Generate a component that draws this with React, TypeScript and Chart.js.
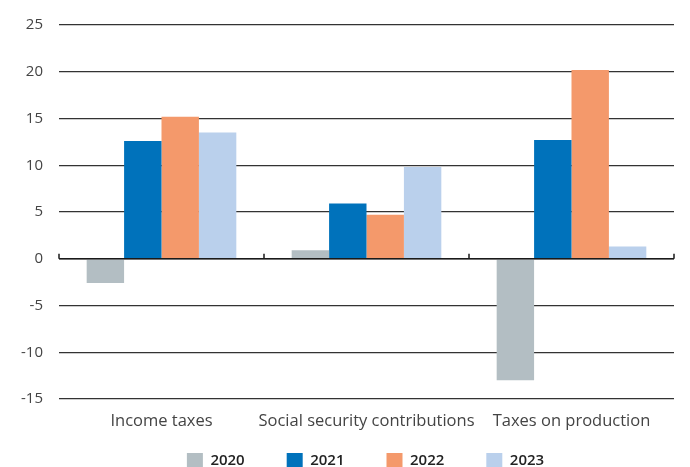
import React, { useEffect, useRef } from "react";
import { Chart, registerables } from "chart.js";

Chart.register(...registerables);

const categories = ["Income taxes", "Social security contributions", "Taxes on production"];
const years = ["2020", "2021", "2022", "2023"];
const values2020 = [-2.6, 0.9, -13.0];
const values2021 = [12.6, 5.9, 12.7];
const values2022 = [15.2, 4.7, 20.2];
const values2023 = [13.5, 9.8, 1.3];
const seriesColors = ["#b3bec3", "#0072bb", "#f4996b", "#bad0ec"];
const yMin = -15;
const yMax = 25;
const yStep = 5;

const FONT = "'Open Sans', 'DejaVu Sans', sans-serif";
const LEGEND_PAD = 42;

const layoutPlugin = {
  id: "layoutTweaks",
  afterLayout(chart: any) {
    const lg = chart.legend;
    if (lg) {
      const shift = (chart.chartArea.left + chart.chartArea.right) / 2 - chart.width / 2 + 7;
      lg.left += shift;
      lg.right += shift;
      const h = lg.bottom - lg.top;
      lg.top = chart.chartArea.bottom + 54 - LEGEND_PAD;
      lg.bottom = lg.top + h;
    }
  },
  afterDatasetsDraw(chart: any) {
    const { ctx, chartArea, scales } = chart;
    const y0 = scales.y.getPixelForValue(0);
    ctx.save();
    ctx.strokeStyle = "#1a1a1a";
    ctx.lineWidth = 1.5;
    ctx.beginPath();
    ctx.moveTo(chartArea.left, y0);
    ctx.lineTo(chartArea.right, y0);
    for (let i = 0; i <= categories.length; i++) {
      const x = scales.x.getPixelForValue(i - 0.5);
      ctx.moveTo(x, y0);
      ctx.lineTo(x, y0 - 5);
    }
    ctx.stroke();
    ctx.restore();
  },
};

export default function App() {
  const ref = useRef<HTMLCanvasElement | null>(null);

  useEffect(() => {
    document.body.style.margin = "0";
    const seriesValues = [values2020, values2021, values2022, values2023];
    const chart = new Chart(ref.current as HTMLCanvasElement, {
      type: "bar",
      data: {
        labels: categories,
        datasets: years.map((yr, i) => ({
          label: yr,
          data: seriesValues[i],
          backgroundColor: seriesColors[i],
          borderWidth: 0,
          categoryPercentage: 0.73,
          barPercentage: 1,
        })),
      },
      options: {
        animation: false,
        responsive: true,
        maintainAspectRatio: false,
        layout: { padding: { top: 21, right: 16, left: 0, bottom: -35 } },
        plugins: {
          tooltip: { enabled: false },
          legend: {
            position: "bottom",
            align: "center",
            labels: {
              boxWidth: 16,
              boxHeight: 16,
              padding: LEGEND_PAD,
              color: "#222",
              font: { family: FONT, size: 15, weight: "600" },
            },
          },
        },
        scales: {
          x: {
            grid: { display: false, drawTicks: false },
            border: { display: false },
            ticks: {
              color: "#444",
              padding: 12,
              autoSkip: false,
              font: { family: FONT, size: 16.5 },
              maxRotation: 0,
            },
            afterFit(scale: any) {
              scale.height = 35;
            },
          },
          y: {
            min: yMin,
            max: yMax,
            grid: { color: "#333", lineWidth: 1.3, drawTicks: false },
            border: { display: false },
            ticks: {
              stepSize: yStep,
              color: "#444",
              padding: 16,
              font: { family: FONT, size: 15 },
            },
            afterFit(scale: any) {
              scale.width = 59;
            },
          },
        },
      },
      plugins: [layoutPlugin],
    });
    return () => chart.destroy();
  }, []);

  return (
    <div style={{ width: 690, height: 467, position: "relative" }}>
      <canvas ref={ref} />
    </div>
  );
}
